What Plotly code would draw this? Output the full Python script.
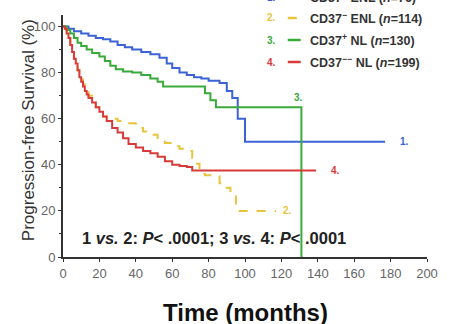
import plotly.graph_objects as go

# Kaplan-Meier curves (time in months, survival in %)
t1 = [0, 3, 6, 10, 14, 18, 22, 26, 30, 34, 38, 43, 48, 53, 57, 60, 64, 68, 72, 76, 80, 86, 90, 93, 96, 100, 177]
s1 = [100, 99, 98, 97, 96, 95, 94.5, 93.5, 92, 91, 90, 89, 88, 86.5, 84, 82, 80, 79, 78, 77.5, 76.5, 75.5, 72, 69, 60, 50, 50]

t2 = [0, 1, 2, 3, 4, 5, 6, 7, 8, 9, 10, 11, 12, 14, 16, 18, 20, 22, 24, 30, 35, 40, 44, 48, 52, 56, 60, 64, 68, 71, 73, 75, 78, 82, 86, 89, 92, 95, 117]
s2 = [100, 99, 97, 95, 92, 89, 86, 84, 81, 79, 77, 75, 73, 70, 67, 65, 63, 61, 60, 59, 58, 56, 54.5, 53, 51, 49.5, 48, 47, 46, 43, 40.5, 36, 35.5, 35, 32, 30, 27, 20, 20]

t3 = [0, 2, 4, 6, 8, 10, 13, 16, 20, 23, 26, 29, 33, 38, 43, 48, 52, 55, 75, 78, 81, 84, 131]
s3 = [100, 98.5, 97, 95, 93, 91.5, 90, 88.5, 87, 85, 83, 81.5, 80.5, 80, 79, 77.5, 76, 74, 74, 71, 68, 65, 0]

t4 = [0, 1, 2, 3, 4, 5, 6, 7, 8, 9, 10, 11, 12, 13, 14, 16, 18, 20, 22, 24, 27, 30, 33, 36, 40, 44, 48, 52, 56, 60, 64, 68, 71, 139]
s4 = [100, 99, 97, 95, 92, 89, 86, 84, 81, 78, 76, 74, 72, 70.5, 69, 67, 65, 63, 61, 59, 56, 54, 51.5, 49, 47.5, 46, 45, 43.5, 41.5, 40, 39.5, 39, 37.5, 37.5]

# End-of-curve labels
curve_labels = ["1.", "2.", "3.", "4."]
label_x = [184, 120, 126, 146]
label_y = [50, 20, 69, 37.5]

colors = ["#3b63d6", "#e8c43c", "#3aaa3a", "#d83a3a"]
legend_text = ["CD37<sup>+</sup> ENL (<i>n</i>=76)", "CD37<sup>−</sup> ENL (<i>n</i>=114)",
               "CD37<sup>+</sup> NL (<i>n</i>=130)", "CD37<sup>−−</sup> NL (<i>n</i>=199)"]

x_ticks = [0, 20, 40, 60, 80, 100, 120, 140, 160, 180, 200]
y_ticks = [0, 20, 40, 60, 80, 100]

fig = go.Figure()
series = [(t1, s1, "solid"), (t2, s2, "dash"), (t3, s3, "solid"), (t4, s4, "solid")]
for (t, s, dash), c in zip(series, colors):
    fig.add_trace(go.Scatter(x=t, y=s, mode="lines", line=dict(color=c, width=2, shape="hv", dash=dash),
                             showlegend=False, hoverinfo="skip"))

for lab, lx, ly, c in zip(curve_labels, label_x, label_y, colors):
    fig.add_annotation(x=lx, y=ly, text="<b>" + lab + "</b>", showarrow=False,
                       font=dict(size=10, color=c, family="Liberation Sans"), xanchor="left", yanchor="middle")

L, T, W, H = 63, 15, 366, 242   # plot area in screenshot pixels
def px(xp):
    return (xp - L) / W
def py(yp):
    return (T + H - yp) / H

leg_y = [-3, 18, 40, 62]
for i in range(4):
    fig.add_annotation(xref="paper", yref="paper", x=px(273), y=py(leg_y[i]), text="<b>" + curve_labels[i] + "</b>",
                       showarrow=False, font=dict(size=10, color=colors[i], family="Liberation Sans"),
                       xanchor="center", yanchor="middle")
    fig.add_shape(type="line", xref="paper", yref="paper", x0=px(289), x1=px(302), y0=py(leg_y[i]), y1=py(leg_y[i]),
                  line=dict(color=colors[i], width=2.5, dash="dash" if i == 1 else "solid"))
    fig.add_annotation(xref="paper", yref="paper", x=px(309), y=py(leg_y[i]), text="<b>" + legend_text[i] + "</b>",
                       showarrow=False, font=dict(size=12.5, color="#333333", family="Liberation Sans"),
                       xanchor="left", yanchor="middle")

fig.add_annotation(xref="paper", yref="paper", x=px(80), y=py(238), xanchor="left", yanchor="middle", showarrow=False,
                   text="<b>1 <i>vs.</i> 2: <i>P</i>< .0001; 3 <i>vs.</i> 4: <i>P</i>< .0001</b>",
                   font=dict(size=16.5, color="#222222", family="Liberation Sans"))

fig.add_annotation(xref="paper", yref="paper", x=px(247), y=py(312), text="<b>Time (months)</b>",
                   showarrow=False, font=dict(size=24, color="#111111", family="Liberation Sans"),
                   xanchor="center", yanchor="middle")
fig.add_annotation(xref="paper", yref="paper", x=px(28), y=py(130), text="Progression-free Survival (%)",
                   textangle=-90, showarrow=False, font=dict(size=17, color="#333333", family="Liberation Sans"),
                   xanchor="center", yanchor="middle")

fig.update_layout(
    width=450, height=324,
    margin=dict(l=L, r=450 - L - W, t=T, b=324 - T - H),
    paper_bgcolor="white", plot_bgcolor="white",
    xaxis=dict(range=[0, 200], tickvals=x_ticks, showgrid=False, zeroline=False, showline=True,
               linecolor="#333333", linewidth=2, ticks="outside", ticklen=3, tickcolor="#333333",
               tickfont=dict(size=13, color="#666666", family="Liberation Sans")),
    yaxis=dict(range=[0, 105], tickvals=y_ticks, showgrid=False, zeroline=False, showline=True,
               linecolor="#333333", linewidth=2, ticks="outside", ticklen=3, tickcolor="#333333",
               tickfont=dict(size=13, color="#666666", family="Liberation Sans"),
               minor=dict(tickvals=[10, 30, 50, 70, 90], ticks="outside", ticklen=2, tickcolor="#333333")),
)

fig.write_html("out.html", config={"displayModeBar": False},
               post_script="document.body.style.margin='0';document.body.style.padding='0';")
